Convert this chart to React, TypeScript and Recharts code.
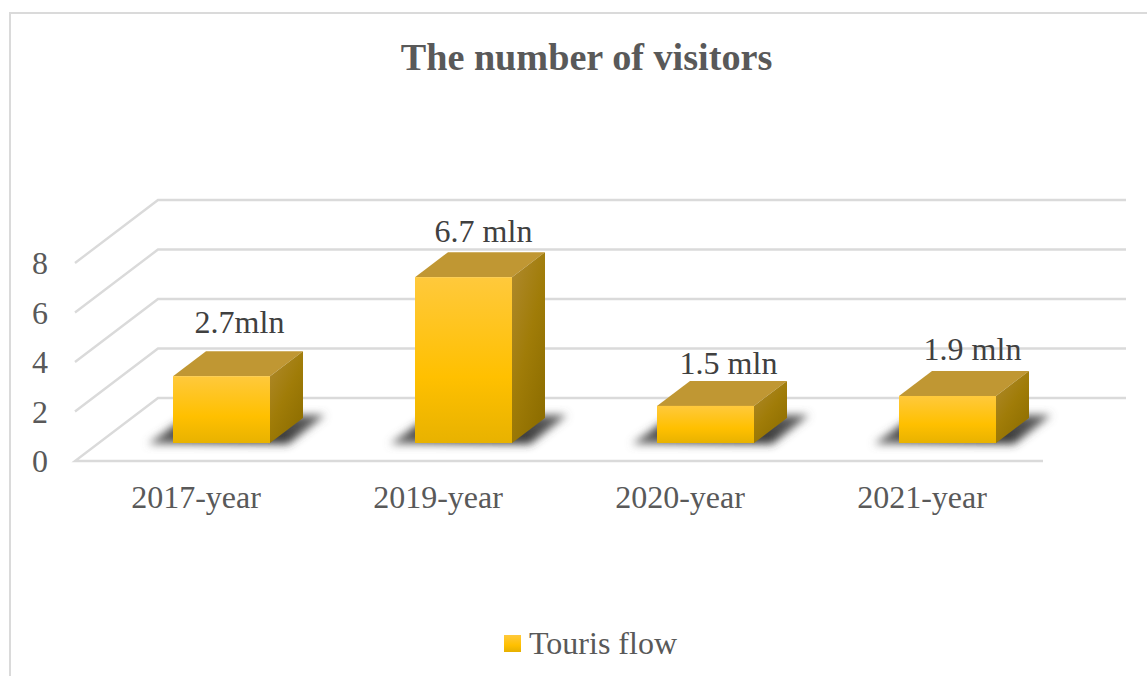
import React from "react";
import { BarChart, Bar, XAxis, YAxis, CartesianGrid, Legend, LabelList } from "recharts";

const categories = ["2017-year", "2019-year", "2020-year", "2021-year"];
const flowValues = [2.7, 6.7, 1.5, 1.9];
const flowLabels = ["2.7mln", "6.7 mln", "1.5 mln", "1.9 mln"];
const valueTicks = [0, 2, 4, 6, 8];
const seriesName = "Touris flow";

const rows = categories.map((year, i) => ({ year, flow: flowValues[i], label: flowLabels[i] }));

const SERIF = "'Liberation Serif', 'Times New Roman', serif";
const WIDTH = 1147;
const HEIGHT = 676;

// Oblique projection of the 3D scene.
const WALL_DX = 83;
const WALL_DY = 63;
const BOX_DX = 33;
const BOX_DY = 25;
// Bars stand on the floor, inset from its front edge.
const FLOOR_INSET_X = 25;
const FLOOR_INSET_Y = 18;

// Each gridline runs along the side wall, then along the back wall.
function WallLine(props: any) {
  const { x1, x2, y1, index } = props;
  const backY = y1 - WALL_DY;
  const isFloor = Math.abs(y1 - 461) < 1;
  const pts = [[x1, y1], [x1 + WALL_DX, backY], [x2 + WALL_DX, backY]];
  if (isFloor) pts.unshift([x2, y1]);
  return (
    <polyline
      key={`wall-${index}-${y1}`}
      points={pts.map((p) => p.join(",")).join(" ")}
      fill="none"
      stroke="#DADADA"
      strokeWidth={2.4}
    />
  );
}

function Box3D(props: any) {
  const { x, y, width, height } = props;
  const l = x + FLOOR_INSET_X;
  const r = l + width;
  const t = y - FLOOR_INSET_Y;
  const b = t + height;
  return (
    <g>
      <polygon
        points={`${l - 25},${b + 1} ${r + 18},${b + 1} ${r + 55},${b - 28} ${l + 16},${b - 28}`}
        fill="url(#floorFade)"
        filter="url(#floorShadow)"
      />
      <polygon
        points={`${l},${t} ${r},${t} ${r + BOX_DX},${t - BOX_DY} ${l + BOX_DX},${t - BOX_DY}`}
        fill="#C09733"
      />
      <polygon
        points={`${r},${t} ${r + BOX_DX},${t - BOX_DY} ${r + BOX_DX},${b - BOX_DY} ${r},${b}`}
        fill="url(#boxSide)"
      />
      <rect x={l} y={t} width={width} height={height} fill="url(#boxFront)" />
    </g>
  );
}

// Value captions sit above the top face of each box.
const captionOffsets = [
  { dx: 43, dy: -61 },
  { dx: 45, dy: -53 },
  { dx: 48, dy: -50 },
  { dx: 50, dy: -54 },
];

function Caption(props: any) {
  const { x, y, width, value, index } = props;
  const off = captionOffsets[index];
  return (
    <text
      x={x + width / 2 + off.dx}
      y={y + off.dy}
      textAnchor="middle"
      fontFamily={SERIF}
      fontSize={32}
      fill="#404040"
    >
      {value}
    </text>
  );
}

function LegendRow({ payload }: any) {
  return (
    <div style={{ display: "flex", justifyContent: "center", alignItems: "center", fontFamily: SERIF, fontSize: 32, color: "#595959" }}>
      {(payload || []).map((item: any) => (
        <span key={item.value} style={{ display: "flex", alignItems: "center" }}>
          <span
            style={{
              width: 17,
              height: 17,
              marginRight: 8,
              background: "linear-gradient(#FFC93C, #FFC000 60%, #E6B000)",
            }}
          />
          {item.value}
        </span>
      ))}
    </div>
  );
}

export default function App() {
  return (
    <div style={{ position: "absolute", left: 0, top: 0, width: WIDTH, height: HEIGHT, overflow: "hidden", background: "#fff" }}>
      <div style={{ position: "absolute", left: 9, top: 12, width: WIDTH, height: HEIGHT, borderLeft: "2px solid #DADADA", borderTop: "2px solid #DADADA" }} />
      <BarChart
        width={WIDTH}
        height={HEIGHT}
        data={rows}
        margin={{ top: 263, right: 104, bottom: 0, left: 0 }}
        style={{ position: "absolute", left: 0, top: 0 }}
      >
        <defs>
          <linearGradient id="boxFront" x1="0" y1="0" x2="0" y2="1">
            <stop offset="0" stopColor="#FFC93C" />
            <stop offset="0.6" stopColor="#FFC000" />
            <stop offset="1" stopColor="#E8B200" />
          </linearGradient>
          <linearGradient id="boxSide" x1="0" y1="0" x2="0.7" y2="1">
            <stop offset="0" stopColor="#B08A30" />
            <stop offset="0.55" stopColor="#A07C08" />
            <stop offset="1" stopColor="#8E6E00" />
          </linearGradient>
          <linearGradient id="floorFade" x1="0" y1="1" x2="1" y2="0">
            <stop offset="0" stopColor="#777777" />
            <stop offset="0.4" stopColor="#333333" />
            <stop offset="1" stopColor="#666666" />
          </linearGradient>
          <filter id="floorShadow" x="-20%" y="-50%" width="140%" height="200%">
            <feGaussianBlur stdDeviation="4.5" />
          </filter>
        </defs>
        <text x={586.5} y={70} textAnchor="middle" fontFamily={SERIF} fontSize={38.2} fontWeight="bold" fill="#595959">
          The number of visitors
        </text>
        <CartesianGrid vertical={false} horizontal={WallLine} />
        <XAxis
          dataKey="year"
          axisLine={false}
          tickLine={false}
          tickMargin={18}
          height={215}
          tick={{ fontFamily: SERIF, fontSize: 32, fill: "#595959" }}
        />
        <YAxis
          domain={[0, 8]}
          ticks={valueTicks}
          axisLine={false}
          tickLine={false}
          width={75}
          tickMargin={21}
          tick={{ fontFamily: SERIF, fontSize: 32, fill: "#595959" }}
        />
        <Legend
          verticalAlign="middle"
          content={<LegendRow />}
          wrapperStyle={{ position: "absolute", left: 0, top: 625, width: 1181 }}
        />
        <Bar dataKey="flow" name={seriesName} barSize={97} shape={<Box3D />} isAnimationActive={false}>
          <LabelList dataKey="label" content={<Caption />} />
        </Bar>
      </BarChart>
    </div>
  );
}
